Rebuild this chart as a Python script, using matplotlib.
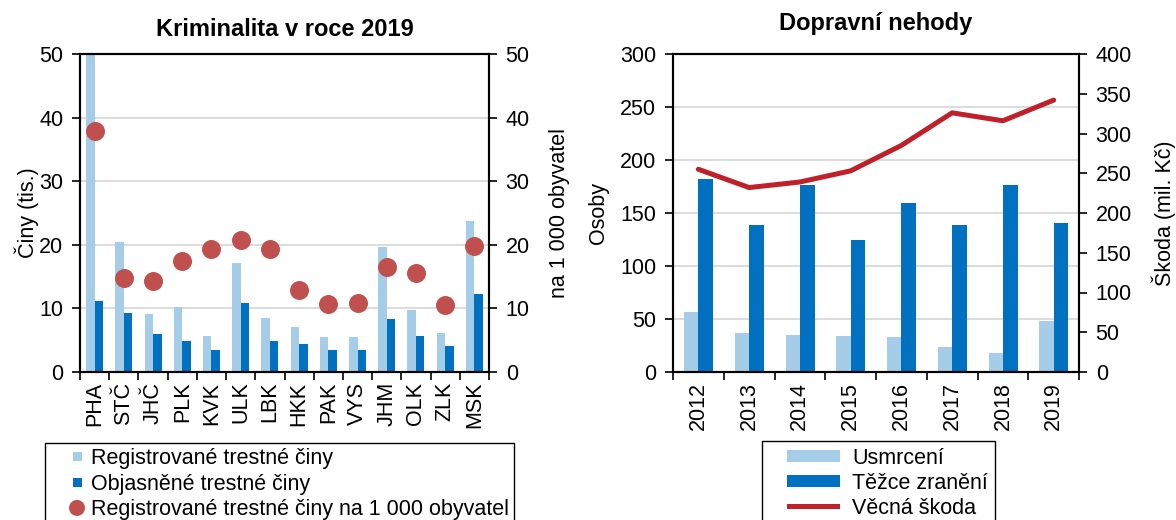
import numpy as np
import matplotlib.pyplot as plt
from matplotlib.patches import Patch, Rectangle, Circle
from matplotlib.legend_handler import HandlerPatch

plt.rcParams['font.family'] = ['Liberation Sans', 'DejaVu Sans']
plt.rcParams['font.size'] = 15.5

# kriminalita 2019 po krajich
kraje = ['PHA', 'STČ', 'JHČ', 'PLK', 'KVK', 'ULK', 'LBK', 'HKK', 'PAK', 'VYS', 'JHM', 'OLK', 'ZLK', 'MSK']
registrovane = [50.6, 20.4, 9.1, 10.2, 5.7, 17.1, 8.5, 7.1, 5.5, 5.5, 19.7, 9.8, 6.1, 23.8]
objasnene = [11.1, 9.3, 6.0, 4.8, 3.5, 10.9, 4.8, 4.4, 3.5, 3.4, 8.4, 5.7, 4.1, 12.3]
na_1000 = [37.9, 14.8, 14.3, 17.5, 19.4, 20.8, 19.3, 12.9, 10.7, 10.8, 16.5, 15.5, 10.5, 19.8]

# dopravni nehody
roky = ['2012', '2013', '2014', '2015', '2016', '2017', '2018', '2019']
usmrceni = [57, 37, 35, 34, 33, 24, 18, 48]
tezce_zraneni = [182, 139, 176, 125, 159, 139, 176, 141]
vecna_skoda = [255, 232, 239, 253, 285, 326, 316, 342]

svetla = '#a6cde8'
tmava = '#0070c0'
cervena_bod = '#c0504d'
cervena_cara = '#c0202a'
mrizka = '#d9d9d9'

FS = 15.5          # velikost pisma legendy
PT = 72 / 100      # px -> pt


def uprav_osy(ax, ax2, n):
    ax.set_xlim(-0.5, n - 0.5)
    ax.set_xticks(np.arange(n))
    ax.set_xticks(np.arange(-0.5, n), minor=True)
    ax.tick_params(axis='x', which='major', length=0, pad=7, labelrotation=90)
    ax.tick_params(axis='x', which='minor', length=6, width=1.2, direction='out')
    ax.tick_params(axis='y', length=6, width=1.2, direction='out', pad=6)
    ax2.tick_params(axis='y', length=6, width=1.2, direction='out', pad=6)
    ax.yaxis.grid(True, color=mrizka, lw=1.3)
    ax.set_axisbelow(True)
    for osa in (ax, ax2):
        for s in osa.spines.values():
            s.set_linewidth(1.5)


# znacky v legendach - pozice v px od zacatku pole pro znacku
def ctverec(legend, orig_handle, xdescent, ydescent, width, height, fontsize):
    a = 9 * PT
    yc = -ydescent + height / 2
    return Rectangle((-xdescent + 23 * PT, yc - a / 2), a, a)


def kolecko(legend, orig_handle, xdescent, ydescent, width, height, fontsize):
    yc = -ydescent + height / 2
    return Circle((-xdescent + 27 * PT, yc), 8 * PT)


def pruh(vyska):
    def f(legend, orig_handle, xdescent, ydescent, width, height, fontsize):
        yc = -ydescent + height / 2
        return Rectangle((-xdescent + 18 * PT, yc - vyska * PT / 2),
                         53 * PT, vyska * PT)
    return f


fig = plt.figure(figsize=(11.76, 5.2), dpi=100)

# levy graf - kriminalita
ax1 = fig.add_axes([80 / 1176, 148 / 520, 409 / 1176, 318 / 520])
x = np.arange(len(kraje))
ax1.bar(x, registrovane, width=-0.29, align='edge', color=svetla)
ax1.bar(x, objasnene, width=0.29, align='edge', color=tmava)
ax1.set_ylim(0, 50)
ax1.set_yticks(range(0, 51, 10))
ax1.set_xticklabels(kraje)
ax1.set_ylabel('Činy (tis.)', labelpad=0)
ax1.set_title('Kriminalita v roce 2019', fontweight='bold', fontsize=17, pad=13)

ax1b = ax1.twinx()
ax1b.scatter(x, na_1000, s=160, color=cervena_bod, zorder=3, clip_on=False)
ax1b.set_ylim(0, 50)
ax1b.set_yticks(range(0, 51, 10))
ax1b.set_ylabel('na 1 000 obyvatel', labelpad=14)
uprav_osy(ax1, ax1b, len(kraje))

# pravy graf - dopravni nehody
ax2 = fig.add_axes([673 / 1176, 148 / 520, 406 / 1176, 318 / 520])
r = np.arange(len(roky))
ax2.bar(r, usmrceni, width=-0.28, align='edge', color=svetla)
ax2.bar(r, tezce_zraneni, width=0.29, align='edge', color=tmava)
ax2.set_ylim(0, 300)
ax2.set_yticks(range(0, 301, 50))
ax2.set_xticklabels(roky)
ax2.set_ylabel('Osoby', labelpad=8)
ax2.set_title('Dopravní nehody', fontweight='bold', fontsize=17, pad=17)

ax2b = ax2.twinx()
ax2b.plot(r, vecna_skoda, color=cervena_cara, lw=3.6, solid_capstyle='round')
ax2b.set_ylim(0, 400)
ax2b.set_yticks(range(0, 401, 50))
ax2b.set_ylabel('Škoda (mil. Kč)', labelpad=14)
uprav_osy(ax2, ax2b, len(roky))

# legendy
h_reg = Patch(facecolor=svetla)
h_obj = Patch(facecolor=tmava)
h_bod = Patch(facecolor=cervena_bod)
leg1 = fig.legend(
    handles=[h_reg, h_obj, h_bod],
    labels=['Registrované trestné činy', 'Objasněné trestné činy',
            'Registrované trestné činy na 1 000 obyvatel'],
    handler_map={h_reg: HandlerPatch(patch_func=ctverec),
                 h_obj: HandlerPatch(patch_func=ctverec),
                 h_bod: HandlerPatch(patch_func=kolecko)},
    loc='upper left', bbox_to_anchor=(45 / 1176, 1 - 443 / 520),
    borderaxespad=0, fancybox=False, edgecolor='black', framealpha=1,
    handlelength=36 * PT / FS, handleheight=0.7, handletextpad=5 * PT / FS,
    borderpad=5 * PT / FS, labelspacing=0.22, fontsize=FS)
leg1.get_frame().set_linewidth(1.0)

h_usm = Patch(facecolor=svetla)
h_tez = Patch(facecolor=tmava)
h_sko = Patch(facecolor=cervena_cara)
leg2 = fig.legend(
    handles=[h_usm, h_tez, h_sko],
    labels=['Usmrcení', 'Těžce zranění', 'Věcná škoda'],
    handler_map={h_usm: HandlerPatch(patch_func=pruh(12)),
                 h_tez: HandlerPatch(patch_func=pruh(12)),
                 h_sko: HandlerPatch(patch_func=pruh(5))},
    loc='upper left', bbox_to_anchor=(762 / 1176, 1 - 441 / 520),
    borderaxespad=0, fancybox=False, edgecolor='black', framealpha=1,
    handlelength=71 * PT / FS, handleheight=0.7, handletextpad=12 * PT / FS,
    borderpad=7 * PT / FS, labelspacing=0.18, fontsize=FS)
leg2.get_frame().set_linewidth(1.0)

fig.savefig('out.png', dpi=100)
